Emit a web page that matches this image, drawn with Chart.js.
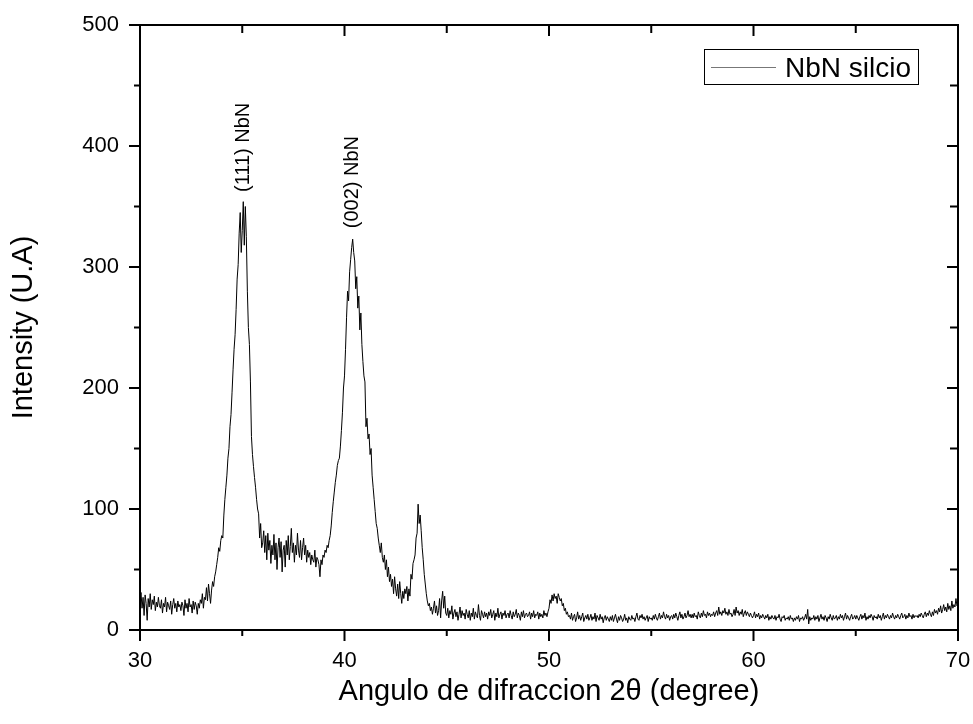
<!DOCTYPE html>
<html lang="es">
<head>
    <meta charset="UTF-8">
    <title>NbN silcio - DRX</title>
    <script src="https://cdn.jsdelivr.net/npm/chart.js"></script>
    <style>
        body { margin: 0; background: #fff; }
    </style>
</head>
<body>
    <canvas id="grafico" width="973" height="724"></canvas>

    <script>
        // barrido 2theta: 30 a 70 grados, paso 0.05
        const anguloInicio = 30;
        const anguloPaso = 0.05;

        const intensidad = [
            24,31,18,27,12,29,22,8,26,19,30,17,25,21,28,16,23,19,27,20,        // 30
            18,25,14,22,19,27,15,23,20,17,24,13,21,26,18,22,15,24,19,21,        // 31
            16,23,20,12,25,18,22,15,26,19,21,14,24,17,23,20,13,22,18,25,        // 32
            22,30,18,27,25,35,24,38,30,22,33,40,36,44,48,54,60,68,65,74,        // 33
            78,76,95,108,118,128,142,150,168,178,196,215,232,244,265,290,302,328,345,312, // 34
            330,354,318,350,325,280,250,236,205,160,145,135,126,118,108,100,96,76,88,68,  // 35
            72,82,64,78,58,80,66,74,55,70,62,79,58,72,50,68,76,60,73,48,        // 36
            66,70,52,74,62,78,58,69,84,64,72,56,70,62,80,66,60,74,58,68,        // 37
            76,62,70,56,66,60,64,54,62,58,56,66,52,60,58,54,44,58,54,62,        // 38
            60,66,64,70,68,74,78,86,97,106,114,122,128,136,140,142,152,165,180,200, // 39
            210,232,258,280,272,296,306,316,323,312,305,282,292,266,276,248,262,236,222,210, // 40
            205,168,175,158,162,145,150,128,118,108,98,88,84,76,70,64,72,60,56,62, // 41
            50,58,44,52,40,46,36,42,30,44,34,28,38,26,40,30,22,32,26,34,        // 42
            30,36,24,34,28,46,42,55,58,62,76,80,104,88,95,82,68,58,46,38,       // 43
            30,24,20,22,16,19,13,18,24,14,20,12,16,26,10,24,32,18,28,14,        // 44
            12,18,10,16,13,20,9,14,17,11,15,8,13,19,10,16,12,14,9,17,           // 45
            13,10,16,8,14,11,18,9,15,12,10,21,12,8,16,13,10,15,11,14,           // 46
            9,15,12,17,10,13,16,8,14,11,18,10,13,15,9,14,12,16,10,13,           // 47
            14,10,16,12,9,15,11,13,17,10,14,12,8,15,11,16,10,13,14,11,          // 48
            12,15,9,14,11,16,10,13,12,15,9,14,11,13,10,16,12,14,11,15,          // 49
            18,25,22,29,24,30,26,28,22,30,27,24,26,20,22,16,18,13,15,11,        // 50
            12,9,14,8,11,13,7,10,15,9,12,8,11,14,7,10,12,9,13,8,                // 51
            10,13,8,11,9,14,7,12,10,8,13,9,11,6,10,12,8,11,9,7,                 // 52
            11,8,12,7,10,13,9,6,11,8,12,10,7,9,13,8,10,6,11,9,                  // 53
            8,12,9,10,7,11,14,9,8,12,10,13,9,11,8,10,12,7,11,9,                 // 54
            10,8,12,9,13,10,8,11,14,9,12,10,15,11,9,13,10,12,8,11,              // 55
            12,9,13,10,14,11,8,12,15,10,13,9,11,14,10,12,16,11,13,10,           // 56
            13,10,14,11,12,9,15,12,10,14,11,16,12,13,10,15,12,14,11,13,         // 57
            12,15,11,14,16,12,19,13,15,12,16,14,18,13,15,12,17,13,14,11,        // 58
            13,17,12,19,14,16,12,15,13,17,11,14,16,12,15,13,11,14,12,10,        // 59
            12,15,10,13,11,14,9,12,10,13,11,9,12,10,13,8,11,9,12,10,            // 60
            9,12,8,11,10,13,9,7,11,10,12,8,10,9,11,8,12,9,10,7,                 // 61
            10,8,11,9,12,7,10,9,11,8,10,13,9,17,5,11,8,10,9,12,                 // 62
            8,11,9,12,7,10,13,9,11,8,12,10,7,11,9,13,10,8,12,9,                 // 63
            10,12,8,11,9,13,10,12,8,11,14,9,12,10,8,11,13,9,10,12,              // 64
            9,12,10,8,11,13,9,12,10,14,8,11,9,12,10,13,11,8,12,10,              // 65
            11,9,13,10,12,8,11,14,9,12,10,13,11,9,12,10,14,11,9,12,             // 66
            10,13,11,9,12,14,10,11,13,9,12,10,14,11,12,9,13,10,12,11,           // 67
            12,10,13,11,14,12,10,13,15,11,14,12,16,13,11,15,12,17,14,16,        // 68
            13,18,15,20,14,17,21,16,19,15,22,17,20,16,24,18,21,19,26,20,        // 69
            22                                                                   // 70
        ];

        // etiquetas de los picos
        const picosTexto = ['(111) NbN', '(002) NbN'];
        const picosAngulo = [35.05, 40.4];
        const picosInicio = [362, 332];

        const puntos = intensidad.map((v, i) => ({
            x: +(anguloInicio + i * anguloPaso).toFixed(2),
            y: v
        }));

        const fuente = 'Liberation Sans, Arial, sans-serif';

        // marco con ticks (afuera abajo/izquierda, adentro arriba/derecha)
        const marco = {
            id: 'marco',
            afterDatasetsDraw(chart) {
                const { ctx, chartArea: a, scales: { x, y } } = chart;
                ctx.save();
                ctx.strokeStyle = '#000';
                ctx.lineWidth = 2;
                ctx.strokeRect(a.left, a.top, a.right - a.left, a.bottom - a.top);
                ctx.beginPath();
                for (let v = x.min; v <= x.max; v += 5) {
                    const px = x.getPixelForValue(v);
                    const mayor = v % 10 === 0;
                    ctx.moveTo(px, a.bottom);
                    ctx.lineTo(px, a.bottom + (mayor ? 11 : 6));
                    ctx.moveTo(px, a.top);
                    ctx.lineTo(px, a.top + (mayor ? 11 : 8));
                }
                for (let v = y.min; v <= y.max; v += 50) {
                    const py = y.getPixelForValue(v);
                    const mayor = v % 100 === 0;
                    ctx.moveTo(a.left, py);
                    ctx.lineTo(a.left - (mayor ? 11 : 6), py);
                    ctx.moveTo(a.right, py);
                    ctx.lineTo(a.right - (mayor ? 11 : 8), py);
                }
                ctx.stroke();

                // etiquetas de los picos
                ctx.fillStyle = '#000';
                ctx.font = '20px ' + fuente;
                ctx.textAlign = 'left';
                ctx.textBaseline = 'middle';
                picosTexto.forEach((t, i) => {
                    ctx.save();
                    ctx.translate(x.getPixelForValue(picosAngulo[i]), y.getPixelForValue(picosInicio[i]));
                    ctx.rotate(-Math.PI / 2);
                    ctx.fillText(t, 0, 0);
                    ctx.restore();
                });

                // leyenda
                ctx.lineWidth = 1;
                ctx.strokeRect(704.5, 49.5, 214, 35);
                ctx.strokeStyle = '#777';
                ctx.beginPath();
                ctx.moveTo(711, 67.5);
                ctx.lineTo(776, 67.5);
                ctx.stroke();
                ctx.font = '28px ' + fuente;
                ctx.textBaseline = 'alphabetic';
                ctx.fillText(chart.data.datasets[0].label, 785, 77);
                ctx.restore();
            }
        };

        const ctx = document.getElementById('grafico').getContext('2d');
        const grafico = new Chart(ctx, {
            type: 'line',
            data: {
                datasets: [{
                    label: 'NbN silcio',
                    data: puntos,
                    borderColor: '#000',
                    borderWidth: 1,
                    pointRadius: 0,
                    tension: 0,
                    fill: false
                }]
            },
            options: {
                responsive: false,
                animation: false,
                devicePixelRatio: 1,
                layout: { padding: { top: 25, right: 15, left: 0, bottom: 0 } },
                plugins: {
                    legend: { display: false },
                    tooltip: { enabled: false }
                },
                scales: {
                    x: {
                        type: 'linear',
                        min: 30,
                        max: 70,
                        grid: { display: false, drawTicks: false },
                        border: { display: false },
                        ticks: { stepSize: 10, padding: 18, color: '#000', font: { family: fuente, size: 22 } },
                        title: {
                            display: true,
                            text: 'Angulo de difraccion 2θ (degree)',
                            color: '#000',
                            font: { family: fuente, size: 29 },
                            padding: { top: 0, bottom: 15 }
                        },
                        afterFit(scale) {
                            scale.height = 94;
                            scale.paddingLeft = 0;
                            scale.paddingRight = 0;
                        }
                    },
                    y: {
                        min: 0,
                        max: 500,
                        grid: { display: false, drawTicks: false },
                        border: { display: false },
                        ticks: { stepSize: 100, padding: 21, color: '#000', font: { family: fuente, size: 22 } },
                        title: {
                            display: true,
                            text: 'Intensity (U.A)',
                            color: '#000',
                            font: { family: fuente, size: 29 },
                            padding: { top: 7, bottom: 0 }
                        },
                        afterFit(scale) {
                            scale.width = 140;
                            scale.paddingTop = 0;
                            scale.paddingBottom = 0;
                        }
                    }
                }
            },
            plugins: [marco]
        });
    </script>
</body>
</html>
